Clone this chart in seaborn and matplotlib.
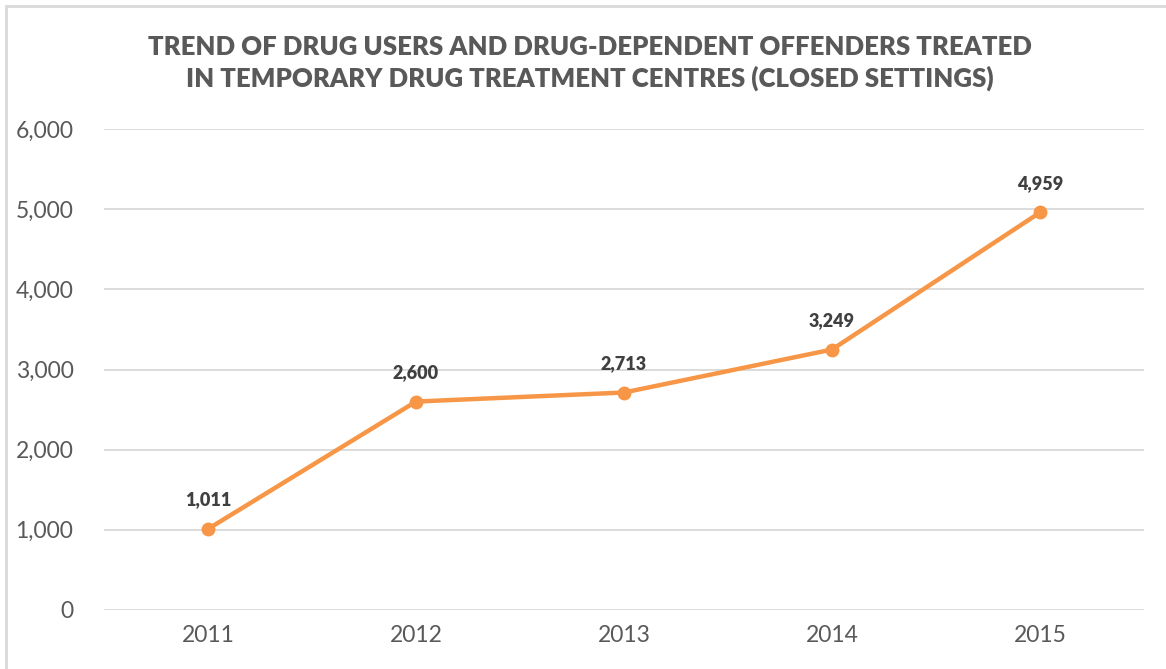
import matplotlib
matplotlib.use("Agg")
import matplotlib.pyplot as plt
import seaborn as sns
import pandas as pd
from matplotlib.patches import Rectangle

years = ["2011", "2012", "2013", "2014", "2015"]
treated = [1011, 2600, 2713, 3249, 4959]
title = "TREND OF DRUG USERS AND DRUG-DEPENDENT OFFENDERS TREATED\nIN TEMPORARY DRUG TREATMENT CENTRES (CLOSED SETTINGS)"

sns.set_theme(style="white")
plt.rcParams['font.family'] = ['Lato', 'DejaVu Sans']

df = pd.DataFrame({"year": years, "treated": treated})

W, H = 1166, 669
fig = plt.figure(figsize=(W / 100, H / 100), dpi=100)
ax = fig.add_axes([104 / W, 59 / H, 1040 / W, 481 / H])

line_color = "#F79646"
sns.lineplot(data=df, x="year", y="treated", ax=ax, color=line_color, linewidth=3.2,
             marker="o", markersize=10, markeredgewidth=0, sort=False, zorder=3)

ax.set_xlim(-0.5, 4.5)
ax.set_ylim(0, 6000)
ax.set_yticks(range(0, 6001, 1000))
ax.set_yticklabels([f"{v:,}" for v in range(0, 6001, 1000)])
ax.grid(axis="y", color="#D9D9D9", linewidth=1.3)
ax.grid(axis="x", visible=False)
for s in ax.spines.values():
    s.set_visible(False)
ax.tick_params(axis="both", length=0, labelsize=16.5, colors="#595959")
ax.tick_params(axis="y", pad=22)
ax.tick_params(axis="x", pad=11)
ax.set_xlabel("")
ax.set_ylabel("")

for i, v in enumerate(treated):
    ax.annotate(f"{v:,}", (i, v), xytext=(0, 15), textcoords="offset points",
                ha="center", va="bottom", fontsize=13, fontweight="heavy", color="#404040")

fig.text(590 / W, 1 - 63 / H, title, ha="center", va="center", fontsize=18.5,
         fontweight="heavy", color="#595959", linespacing=1.3)

fig.patches.append(Rectangle((6 / W, -0.1), 1.2, 1 - 6 / H + 0.1, transform=fig.transFigure,
                             fill=False, edgecolor="#D9D9D9", linewidth=2))

fig.savefig("out.png", dpi=100)
